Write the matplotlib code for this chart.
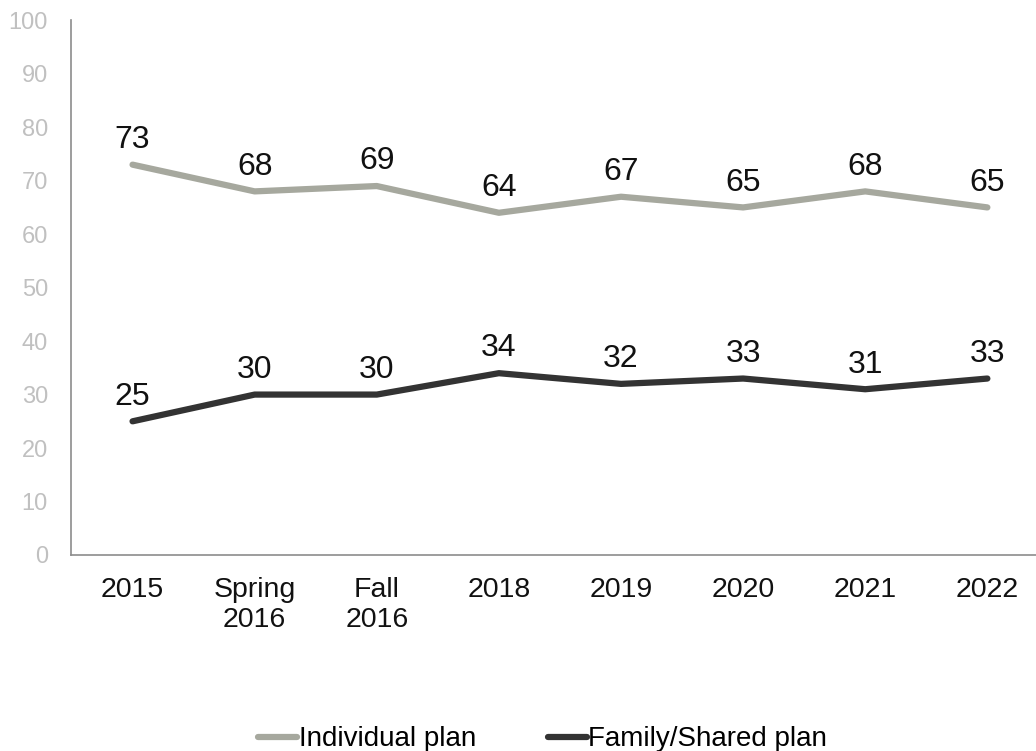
import matplotlib.pyplot as plt

plt.rcParams['font.family'] = ['Liberation Sans', 'DejaVu Sans']

# survey waves and shares (%) per plan type
waves = ["2015", "Spring\n2016", "Fall\n2016", "2018", "2019", "2020", "2021", "2022"]
individual = [73, 68, 69, 64, 67, 65, 68, 65]
family = [25, 30, 30, 34, 32, 33, 31, 33]

fig = plt.figure(figsize=(10.36, 7.51), dpi=100)
ax = fig.add_axes([0.069, 0.261, 0.943, 0.712])

x = range(len(waves))
ax.plot(x, individual, color="#a6a89e", lw=4.5, solid_capstyle="round",
        label="Individual plan")
ax.plot(x, family, color="#333333", lw=4.5, solid_capstyle="round",
        label="Family/Shared plan")

# value labels above each point
for series in (individual, family):
    for i, v in enumerate(series):
        ax.annotate(str(v), (i, v), xytext=(0, 7), textcoords="offset points",
                    ha="center", va="bottom", fontsize=23, color="#111111")

ax.set_xlim(-0.5, 7.5)
ax.set_ylim(0, 100)
ax.set_yticks(range(0, 101, 10))
ax.set_xticks(list(x))
ax.set_xticklabels(waves, fontsize=20.5, color="#111111", linespacing=1.2)
ax.tick_params(axis="y", labelsize=17, labelcolor="#c0c0c0", length=0, pad=17)
ax.tick_params(axis="x", length=0, pad=16)

for side in ("top", "right"):
    ax.spines[side].set_visible(False)
for side in ("left", "bottom"):
    ax.spines[side].set_color("#8c8c8c")
    ax.spines[side].set_linewidth(1.2)

fig.legend(loc="lower center", bbox_to_anchor=(0.524, -0.035), ncol=2, frameon=False,
           fontsize=20, handlelength=1.4, handletextpad=0.05, columnspacing=2.6)

fig.savefig("out.png", dpi=100)
